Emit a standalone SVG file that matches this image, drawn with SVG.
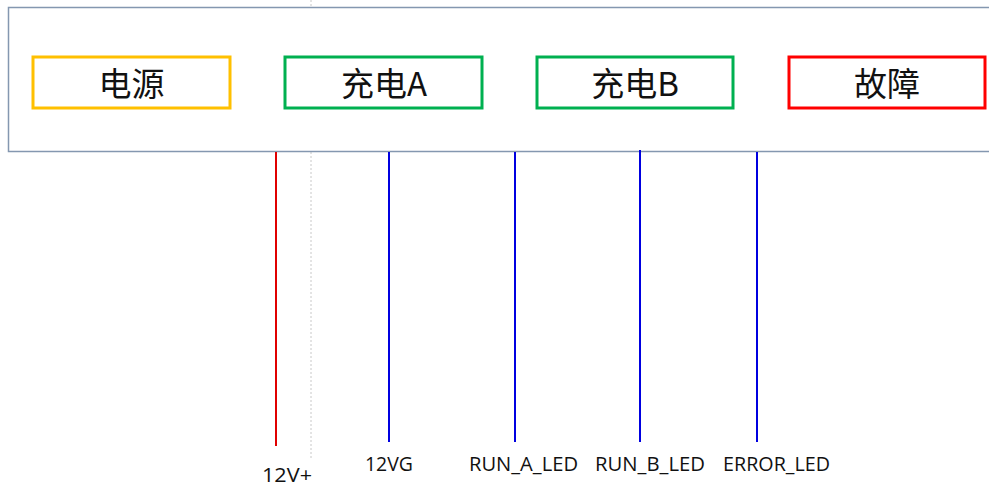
<svg xmlns="http://www.w3.org/2000/svg" width="989" height="487" viewBox="0 0 989 487">
<style>
.box{fill:none;stroke-width:3}
.cn{font-family:"Noto Sans CJK SC","Liberation Sans",sans-serif;font-size:33px;fill:#111;text-anchor:middle}
.lbl{font-family:"Open Sans","Liberation Sans",sans-serif;font-size:19.5px;fill:#111;text-anchor:middle}
.wire{stroke-width:2;fill:none}
</style>
<rect width="989" height="487" fill="#fff"/>
<line x1="311" y1="0" x2="311" y2="460" stroke="#c8c8c8" stroke-width="1" stroke-dasharray="2,2"/>
<rect id="panel" x="8.5" y="7.5" width="990" height="144" fill="#fff" stroke="#8497b0" stroke-width="1.5"/>
<g id="power"><rect class="box" x="33" y="57" width="197" height="51" stroke="#ffc000"/><text class="cn" x="131.5" y="95.5">电源</text></g>
<g id="chargeA"><rect class="box" x="285" y="57" width="197" height="51" stroke="#00b050"/><text class="cn" x="384" y="95.5">充电A</text></g>
<g id="chargeB"><rect class="box" x="537" y="57" width="196" height="51" stroke="#00b050"/><text class="cn" x="635" y="95.5">充电B</text></g>
<g id="fault"><rect class="box" x="789" y="57" width="196" height="51" stroke="#ff0000"/><text class="cn" x="887" y="95.5">故障</text></g>
<g id="connectors">
<line class="wire" x1="276" y1="152" x2="276" y2="446" stroke="#e00000"/>
<line class="wire" x1="389" y1="152" x2="389" y2="442" stroke="#0000e0"/>
<line class="wire" x1="515" y1="152" x2="515" y2="442" stroke="#0000e0"/>
<line class="wire" x1="640" y1="150" x2="640" y2="442" stroke="#0000e0"/>
<line class="wire" x1="757" y1="152" x2="757" y2="442" stroke="#0000e0"/>
</g>
<g id="labels">
<text class="lbl" x="287" y="482" textLength="50" lengthAdjust="spacingAndGlyphs">12V+</text>
<text class="lbl" x="389" y="471" textLength="48" lengthAdjust="spacingAndGlyphs">12VG</text>
<text class="lbl" x="523.5" y="471" textLength="109" lengthAdjust="spacingAndGlyphs">RUN_A_LED</text>
<text class="lbl" x="650" y="471" textLength="110" lengthAdjust="spacingAndGlyphs">RUN_B_LED</text>
<text class="lbl" x="776.5" y="471" textLength="107" lengthAdjust="spacingAndGlyphs">ERROR_LED</text>
</g>
</svg>
